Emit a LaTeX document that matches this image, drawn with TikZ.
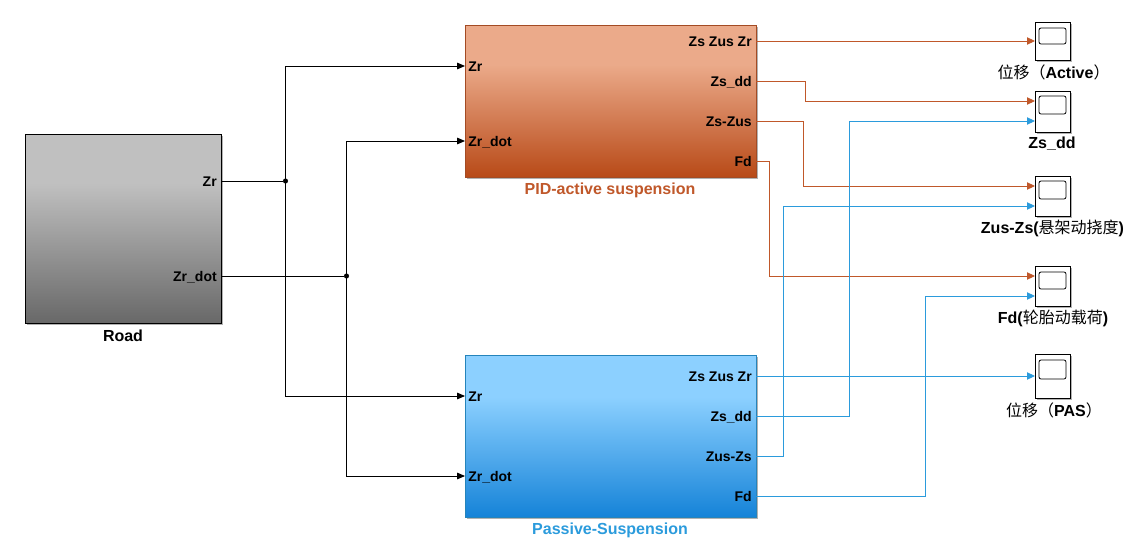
\documentclass[tikz,border=0pt]{standalone}
\usepackage{fontspec}
\setmainfont{Liberation Sans}
\newfontfamily\cjk{Noto Sans CJK SC}
\usetikzlibrary{arrows.meta,shadows}

\definecolor{roadtop}{HTML}{C0C0C0}
\definecolor{roadbot}{HTML}{686868}
\definecolor{pidtop}{HTML}{EBAA8A}
\definecolor{pidbot}{HTML}{B84A18}
\definecolor{pastop}{HTML}{8CD0FF}
\definecolor{pasbot}{HTML}{1583D8}
\definecolor{pidwire}{HTML}{C0582A}
\definecolor{paswire}{HTML}{2B9BDC}

\pgfdeclareverticalshading{roadshade}{100bp}{color(0bp)=(roadbot); color(25bp)=(roadbot); color(62bp)=(roadtop); color(100bp)=(roadtop)}
\pgfdeclareverticalshading{pidshade}{100bp}{color(0bp)=(pidbot); color(25bp)=(pidbot); color(62bp)=(pidtop); color(100bp)=(pidtop)}
\pgfdeclareverticalshading{passhade}{100bp}{color(0bp)=(pasbot); color(25bp)=(pasbot); color(62bp)=(pastop); color(100bp)=(pastop)}

\begin{document}
\begin{tikzpicture}[
  x=0.75pt,y=-0.75pt,
  block/.style={rectangle,draw,line width=0.6pt,inner sep=0pt,
    drop shadow={shadow xshift=1.5pt,shadow yshift=-1.5pt,opacity=0.3,fill=black}},
  roadblock/.style={block,draw=black,shading=roadshade},
  pidblock/.style={block,draw=pidwire!85!black,shading=pidshade},
  pasblock/.style={block,draw=paswire!85!black,shading=passhade},
  scopebox/.style={rectangle,draw,fill=white,line width=0.6pt,inner sep=0pt,minimum width=35*0.75pt,
    drop shadow={shadow xshift=1.2pt,shadow yshift=-1.2pt,opacity=0.3,fill=black}},
  screen/.style={rectangle,draw,rounded corners=1.5pt,line width=0.6pt,inner sep=0pt,minimum width=27*0.75pt},
  port/.style={font=\bfseries\fontsize{10.5}{12}\selectfont,inner sep=0pt},
  inport/.style={port,anchor=west},
  outport/.style={port,anchor=east},
  title/.style={font=\bfseries\fontsize{12}{14}\selectfont,inner sep=0pt},
  dot/.style={circle,fill=black,inner sep=0pt,minimum size=3.8pt},
  wire/.style={line width=0.65pt},
  blackwire/.style={wire,-{Triangle[length=6pt,width=5pt]}},
  pidline/.style={wire,draw=pidwire,-{Triangle[length=6pt,width=5.5pt]}},
  pasline/.style={wire,draw=paswire,-{Triangle[length=6pt,width=5.5pt]}}
]
\useasboundingbox (0,0) rectangle (1138,546);

\node[roadblock,minimum width=196*0.75pt,minimum height=189*0.75pt] (road) at (123,228.5) {};
\node[pidblock,minimum width=291*0.75pt,minimum height=152*0.75pt] (pid) at (610.5,101) {};
\node[pasblock,minimum width=291*0.75pt,minimum height=162*0.75pt] (pas) at (610.5,436) {};

\node[title] (roadname) at (123,336) {Road};
\node[title,text=pidwire] (pidname) at (610,190) {PID-active suspension};
\node[title,text=paswire] (pasname) at (610,530) {Passive-Suspension};

\node[outport] (roadzr) at (217,182) {Zr};
\node[outport] (roadzrdot) at (217,277) {Zr\_dot};

\node[inport] (pidzr) at (468,66.5) {Zr};
\node[inport] (pidzrdot) at (468,142) {Zr\_dot};
\node[outport] (pidall) at (752,41.5) {Zs Zus Zr};
\node[outport] (piddd) at (752,82) {Zs\_dd};
\node[outport] (piddiff) at (752,121.5) {Zs-Zus};
\node[outport] (pidfd) at (752,161.5) {Fd};

\node[inport] (paszr) at (468,396.5) {Zr};
\node[inport] (paszrdot) at (468,477) {Zr\_dot};
\node[outport] (pasall) at (752,376.5) {Zs Zus Zr};
\node[outport] (pasdd) at (752,417) {Zs\_dd};
\node[outport] (pasdiff) at (752,456.5) {Zus-Zs};
\node[outport] (pasfd) at (752,496.5) {Fd};

\node[scopebox,minimum height=38*0.75pt] (scopeA) at (1052.5,41) {};
\node[scopebox,minimum height=41*0.75pt] (scopeB) at (1052.5,111.5) {};
\node[scopebox,minimum height=40*0.75pt] (scopeC) at (1052.5,196.5) {};
\node[scopebox,minimum height=40*0.75pt] (scopeD) at (1052.5,286) {};
\node[scopebox,minimum height=44*0.75pt] (scopeE) at (1052.5,376) {};

\node[screen,minimum height=16*0.75pt] (screenA) at (1052.5,36) {};
\node[screen,minimum height=18*0.75pt] (screenB) at (1052.5,105) {};
\node[screen,minimum height=18*0.75pt] (screenC) at (1052.5,190) {};
\node[screen,minimum height=17*0.75pt] (screenD) at (1052.5,280.5) {};
\node[screen,minimum height=19*0.75pt] (screenE) at (1052.5,369.5) {};

\node[title] (nameA) at (1053.5,72.5) {{\cjk\mdseries 位移（}Active{\cjk\mdseries ）}};
\node[title] (nameB) at (1052,144) {Zs\_dd};
\node[title] (nameC) at (1052.5,228.5) {Zus-Zs({\cjk\mdseries 悬架动挠度})};
\node[title] (nameD) at (1053,318.5) {Fd({\cjk\mdseries 轮胎动载荷})};
\node[title] (nameE) at (1054,410.5) {{\cjk\mdseries 位移（}PAS{\cjk\mdseries ）}};

\coordinate (roadout1) at (221,181);
\coordinate (roadout2) at (221,276);
\node[dot] (split1) at (285.5,181) {};
\node[dot] (split2) at (346.5,276) {};
\coordinate (pidin1) at (465,66);
\coordinate (pidin2) at (465,141);
\coordinate (pasin1) at (465,396);
\coordinate (pasin2) at (465,476);

\coordinate (pidout1) at (756,41);
\coordinate (pidout2) at (756,81);
\coordinate (pidout3) at (756,121);
\coordinate (pidout4) at (756,161);
\coordinate (pasout1) at (756,376);
\coordinate (pasout2) at (756,416);
\coordinate (pasout3) at (756,456);
\coordinate (pasout4) at (756,496);

\coordinate (inA) at (1035,41);
\coordinate (inB1) at (1035,101);
\coordinate (inB2) at (1035,121);
\coordinate (inC1) at (1035,186);
\coordinate (inC2) at (1035,206);
\coordinate (inD1) at (1035,276);
\coordinate (inD2) at (1035,296);
\coordinate (inE) at (1035,376);

\coordinate (bendB1) at (805,101);
\coordinate (bendC1) at (803,186);
\coordinate (bendD1) at (769,276);
\coordinate (bendB2) at (849,121);
\coordinate (bendC2) at (783,206);
\coordinate (bendD2) at (925,296);

\draw[wire] (roadout1)--(split1);
\draw[wire] (roadout2)--(split2);
\draw[blackwire] (split1.center)|-(pidin1);
\draw[blackwire] (split1.center)|-(pasin1);
\draw[blackwire] (split2.center)|-(pidin2);
\draw[blackwire] (split2.center)|-(pasin2);

\draw[pidline] (pidout1)--(inA);
\draw[pidline] (pidout2)-|(bendB1)--(inB1);
\draw[pidline] (pidout3)-|(bendC1)--(inC1);
\draw[pidline] (pidout4)-|(bendD1)--(inD1);

\draw[pasline] (pasout1)--(inE);
\draw[pasline] (pasout2)-|(bendB2)--(inB2);
\draw[pasline] (pasout3)-|(bendC2)--(inC2);
\draw[pasline] (pasout4)-|(bendD2)--(inD2);
\end{tikzpicture}
\end{document}
